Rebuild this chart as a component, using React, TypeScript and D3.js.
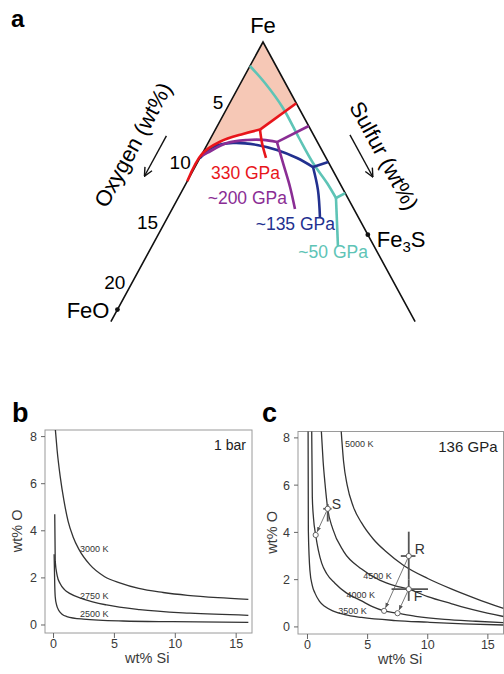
import React from "react";
import * as d3 from "d3";

const W = 504;
const H = 674;
const FONT = "'Liberation Sans', Arial, Helvetica, sans-serif";

// ---------- panel a : Fe-O-S ternary, points are [wt% O, wt% S]
const oxygenTicks = [5, 10, 15, 20];
const feoO = 22.3;
const fe3sS = 16.06;
const edgeMax = 23.3;

const red330Left = [[11.6, 0], [9.3, 0], [7.45, 0.86], [5.36, 2.3], [3.88, 3.42]];
const red330Right = [[3.88, 3.42], [0, 5.1]];
const red330Down = [[3.88, 3.42], [4.28, 4.13], [4.6, 5.06]];

const purple200Left = [[9.5, 0], [8.9, 0.34], [6.97, 1.45], [5.31, 2.86], [4.08, 4.08], [3.1, 5.24]];
const purple200Right = [[3.1, 5.24], [0, 7.0]];
const purple200Down = [[3.1, 5.24], [3.51, 6.57], [3.97, 8.11], [4.51, 9.41]];

const blue135Left = [[9.7, 0], [8.2, 0.55], [6.5, 1.91], [4.75, 3.83], [3.43, 5.57], [2.23, 7.44], [1.38, 9.04]];
const blue135Right = [[1.38, 9.04], [0, 10.0]];
const blue135Down = [[1.38, 9.04], [1.96, 10.38], [2.97, 11.7]];

const teal50Main = [[2.0, 0], [1.56, 1.86], [1.22, 4.28], [1.24, 6.76], [1.21, 8.87], [0.97, 10.78], [0.91, 12.09]];
const teal50Right = [[0.91, 12.09], [0, 12.6]];
const teal50Down = [[0.91, 12.09], [2.76, 14.24]];

const pressureLabels = ["330 GPa", "~200 GPa", "~135 GPa", "~50 GPa"];
const pressureColors = ["#e8151b", "#8a2d94", "#22308f", "#5ec4b6"];

// ---------- panels b, c : isotherms, points are [wt% Si, wt% O]
const siTicks = [0, 5, 10, 15];
const oTicks = [0, 2, 4, 6, 8];

const b3000 = [[0.15, 8.3], [0.3, 7.4], [0.55, 6.3], [0.85, 5.3], [1.2, 4.4], [1.6, 3.75], [2.1, 3.2], [3, 2.55], [4.2, 2.05], [5.5, 1.78], [7, 1.55], [9, 1.38], [11, 1.26], [13.5, 1.16], [16, 1.09]];
const b2750 = [[0.1, 4.7], [0.14, 2.7], [0.3, 2.1], [0.55, 1.75], [0.9, 1.5], [1.36, 1.33], [2.45, 1.1], [4.36, 0.85], [7.08, 0.65], [11.2, 0.5], [16, 0.41]];
const b2500 = [[0.05, 3.0], [0.1, 1.7], [0.14, 1.2], [0.25, 0.85], [0.41, 0.64], [0.7, 0.46], [1.09, 0.36], [2.45, 0.25], [5.7, 0.17], [9.8, 0.14], [16, 0.11]];
const bLabels = ["3000 K", "2750 K", "2500 K"];
const bLabelAt = [[2.18, 3.1], [2.18, 1.12], [2.18, 0.32]];

const c3500 = [[0.05, 8.3], [0.07, 4.1], [0.2, 2.4], [0.4, 1.75], [0.62, 1.43], [1.0, 1.08], [1.45, 0.86], [2.2, 0.66], [3.1, 0.52], [4.5, 0.4], [7.3, 0.27], [10, 0.2], [13, 0.13], [16.3, 0.08]];
const c4000 = [[0.35, 8.3], [0.4, 5.5], [0.5, 4.6], [0.68, 3.89], [0.9, 3.25], [1.18, 2.7], [1.6, 2.25], [2.28, 1.85], [3.2, 1.45], [4.5, 1.1], [5.4, 0.86], [6.37, 0.68], [7.49, 0.58], [9, 0.45], [11.4, 0.32], [14, 0.24], [16.3, 0.18]];
const c4500 = [[1.15, 8.3], [1.3, 7.0], [1.45, 6.1], [1.68, 5.0], [2.1, 4.15], [3.0, 3.2], [4.5, 2.45], [6, 1.98], [7.3, 1.74], [8.42, 1.6], [10, 1.28], [12, 0.98], [14, 0.7], [16.3, 0.44]];
const c5000 = [[2.8, 8.3], [3.0, 7.0], [3.3, 6.0], [3.8, 5.1], [4.5, 4.4], [5.5, 3.7], [6.5, 3.2], [8, 2.6], [10, 2.05], [12, 1.6], [14, 1.2], [16.3, 0.78]];
const cLabels = ["3500 K", "4000 K", "4500 K", "5000 K"];
const cLabelAt = [[2.56, 0.53], [3.25, 1.23], [4.63, 2.03], [3.11, 7.6]];

// estimates with error bars and the point each one projects to on an isotherm
const estNames = ["S", "R", "F"];
const estSi = [1.68, 8.42, 8.42];
const estO = [5.0, 3.0, 1.6];
const estSiErr = [[1.31, 2.0], [7.76, 8.98], [6.99, 10.02]];
const estOErr = [[4.46, 5.2], [2.0, 4.03], [1.1, 2.0]];
const projSi = [0.68, 6.37, 7.49];
const projO = [3.89, 0.68, 0.58];

// ---------- ternary geometry
const apex = { x: 263, y: 42 };
const wtPx = d3.scaleLinear().domain([0, 1]).range([0, 12]);
const halfSlope = 0.544;
function tern(o: number, s: number): [number, number] {
  return [apex.x + wtPx(s - o) * halfSlope, apex.y + wtPx(o + s)];
}
const edgeLen = Math.hypot(halfSlope, 1);
const uL = [-halfSlope / edgeLen, 1 / edgeLen];
const uR = [halfSlope / edgeLen, 1 / edgeLen];

function PanelA() {
  const line = d3
    .line<number[]>()
    .x((d) => tern(d[0], d[1])[0])
    .y((d) => tern(d[0], d[1])[1])
    .curve(d3.curveCatmullRom.alpha(0.5));

  const arc = line(red330Left.slice(1)) as string;
  const fillD =
    `M${tern(0, 0)}L${tern(9.3, 0)}` + arc.slice(arc.indexOf("C")) + `L${tern(0, 5.1)}Z`;

  const curves = [
    [teal50Main, teal50Right, teal50Down],
    [blue135Left, blue135Right, blue135Down],
    [purple200Left, purple200Right, purple200Down],
    [red330Left, red330Right, red330Down],
  ];
  const curveColors = [pressureColors[3], pressureColors[2], pressureColors[1], pressureColors[0]];

  const ends = [red330Down, purple200Down, blue135Down, teal50Down].map((b) => {
    const p = b[b.length - 1];
    return tern(p[0], p[1]);
  });
  const labelOff = [[14, 21], [-8, -5], [15, 12], [30, 12]];

  const feo = tern(feoO, 0);
  const fe3s = tern(0, fe3sS);

  // axis titles along edges
  const oAlong = tern(11.16, 0);
  const nL = [-uL[1], uL[0]];
  const oText = [oAlong[0] + nL[0] * 65, oAlong[1] + nL[1] * 65];
  const oArrowC = tern(11.1, 0);
  const oArrowMid = [oArrowC[0] + nL[0] * 40, oArrowC[1] + nL[1] * 40];
  const sAlong = tern(0, 11.55);
  const nR = [uR[1], -uR[0]];
  const sText = [sAlong[0] + nR[0] * 52, sAlong[1] + nR[1] * 52];
  const sArrowC = tern(0, 10.77);
  const sArrowMid = [sArrowC[0] + nR[0] * 32, sArrowC[1] + nR[1] * 32];
  const angle = (Math.atan2(1, halfSlope) * 180) / Math.PI;

  return (
    <g>
      <text x={11} y={27} fontSize={24} fontWeight="bold">a</text>
      <path d={fillD} fill="#f6c8b6" stroke="none" />
      <path d={`M${tern(edgeMax, 0)}L${tern(0, 0)}L${tern(0, edgeMax)}`} fill="none" stroke="#111" strokeWidth={1.6} />
      {curves.map((branches, i) =>
        branches.map((b, j) => (
          <path key={`${i}-${j}`} d={line(b) as string} fill="none" stroke={curveColors[i]} strokeWidth={2.6} strokeLinejoin="round" />
        ))
      )}
      <circle cx={feo[0]} cy={feo[1]} r={2.4} fill="#111" />
      <circle cx={fe3s[0]} cy={fe3s[1]} r={2.4} fill="#111" />
      <text x={apex.x} y={33} fontSize={22} textAnchor="middle">Fe</text>
      <text x={feo[0] - 8} y={feo[1] + 8} fontSize={22} textAnchor="end">FeO</text>
      <text x={fe3s[0] + 9} y={fe3s[1] + 12} fontSize={22}>
        Fe<tspan fontSize={15} dy={5}>3</tspan><tspan dy={-5}>S</tspan>
      </text>
      {oxygenTicks.map((t) => {
        const p = tern(t, 0);
        return (
          <text key={t} x={p[0] - 7} y={p[1]} dy="0.36em" fontSize={19} textAnchor="end">{t}</text>
        );
      })}
      {pressureLabels.map((lab, i) => (
        <text key={lab} x={ends[i][0] + labelOff[i][0]} y={ends[i][1] + labelOff[i][1]} fontSize={17.5} fill={pressureColors[i]} textAnchor="end">{lab}</text>
      ))}
      <text transform={`translate(${oText[0]},${oText[1]}) rotate(${-angle})`} fontSize={22} textAnchor="middle" dominantBaseline="central">Oxygen (wt%)</text>
      <line
        x1={oArrowMid[0] - uL[0] * 23} y1={oArrowMid[1] - uL[1] * 23}
        x2={oArrowMid[0] + uL[0] * 23} y2={oArrowMid[1] + uL[1] * 23}
        stroke="#111" strokeWidth={1.4} markerEnd="url(#vhead)" />
      <text transform={`translate(${sText[0]},${sText[1]}) rotate(${angle})`} fontSize={22} textAnchor="middle" dominantBaseline="central">Sulfur (wt%)</text>
      <line
        x1={sArrowMid[0] - uR[0] * 24} y1={sArrowMid[1] - uR[1] * 24}
        x2={sArrowMid[0] + uR[0] * 24} y2={sArrowMid[1] + uR[1] * 24}
        stroke="#111" strokeWidth={1.4} markerEnd="url(#vhead)" />
    </g>
  );
}

type PanelProps = {
  id: string;
  letter: string;
  letterX: number;
  left: number;
  right: number;
  top: number;
  bottom: number;
  xDomain: [number, number];
  yDomain: [number, number];
  curves: number[][][];
  labels: string[];
  labelAt: number[][];
  title: string;
  titleSize: number;
  yTitleX: number;
  children?: (x: d3.ScaleLinear<number, number>, y: d3.ScaleLinear<number, number>) => React.ReactNode;
};

function IsoPanel(p: PanelProps) {
  const x = d3.scaleLinear().domain(p.xDomain).range([p.left, p.right]);
  const y = d3.scaleLinear().domain(p.yDomain).range([p.bottom, p.top]);
  const line = d3
    .line<number[]>()
    .x((d) => x(d[0]))
    .y((d) => y(d[1]))
    .curve(d3.curveMonotoneX);
  const tickCol = "#666";
  const txtCol = "#3a3a3a";
  return (
    <g>
      <text x={p.letterX} y={422} fontSize={27} fontWeight="bold">{p.letter}</text>
      <defs>
        <clipPath id={p.id}>
          <rect x={p.left} y={p.top} width={p.right - p.left} height={p.bottom - p.top} />
        </clipPath>
      </defs>
      <rect x={p.left} y={p.top} width={p.right - p.left} height={p.bottom - p.top} fill="none" stroke="#9a9a9a" strokeWidth={1} />
      {siTicks.map((t) => (
        <g key={t}>
          <line x1={x(t)} x2={x(t)} y1={p.bottom} y2={p.bottom + 5} stroke={tickCol} />
          <text x={x(t)} y={p.bottom + 15} fontSize={12.5} fill={txtCol} textAnchor="middle">{t}</text>
        </g>
      ))}
      {oTicks.map((t) => (
        <g key={t}>
          <line x1={p.left - 4} x2={p.left} y1={y(t)} y2={y(t)} stroke={tickCol} />
          <text x={p.left - 8} y={y(t)} dy="0.35em" fontSize={12.5} fill={txtCol} textAnchor="end">{t}</text>
        </g>
      ))}
      <text x={x(7.7)} y={p.bottom + 30} fontSize={14.5} fill={txtCol} textAnchor="middle">wt% Si</text>
      <text transform={`translate(${p.yTitleX},${y(4)}) rotate(-90)`} fontSize={14.5} fill={txtCol} textAnchor="middle">wt% O</text>
      <g clipPath={`url(#${p.id})`}>
        {p.curves.map((c, i) => (
          <path key={i} d={line(c) as string} fill="none" stroke="#333" strokeWidth={1.3} />
        ))}
      </g>
      {p.labels.map((l, i) => (
        <text key={l} x={x(p.labelAt[i][0])} y={y(p.labelAt[i][1])} fontSize={9} fill="#333">{l}</text>
      ))}
      <text x={p.right - 6} y={p.top + 20} fontSize={p.titleSize} fill="#222" textAnchor="end">{p.title}</text>
      {p.children && p.children(x, y)}
    </g>
  );
}

function Estimates(x: d3.ScaleLinear<number, number>, y: d3.ScaleLinear<number, number>) {
  const labelOff = [[4, 0], [6, -2.5], [5, 12]];
  return (
    <g>
      {estNames.map((n, i) => {
        const cx = x(estSi[i]);
        const cy = y(estO[i]);
        const px = x(projSi[i]);
        const py = y(projO[i]);
        const dx = px - cx;
        const dy = py - cy;
        const len = Math.hypot(dx, dy);
        return (
          <g key={n}>
            <line x1={x(estSiErr[i][0])} x2={x(estSiErr[i][1])} y1={cy} y2={cy} stroke="#555" strokeWidth={1.8} />
            <line x1={cx} x2={cx} y1={y(estOErr[i][0])} y2={y(estOErr[i][1])} stroke="#555" strokeWidth={1.8} />
            <line x1={cx + (dx / len) * 3} y1={cy + (dy / len) * 3} x2={px - (dx / len) * 3.5} y2={py - (dy / len) * 3.5} stroke="#555" strokeWidth={0.8} markerEnd="url(#shead)" />
            <circle cx={cx} cy={cy} r={2.6} fill="#fff" stroke="#555" strokeWidth={0.9} />
            <circle cx={px} cy={py} r={2.6} fill="#fff" stroke="#555" strokeWidth={0.9} />
            <text x={cx + labelOff[i][0]} y={cy + labelOff[i][1]} fontSize={14} fill="#333">{n}</text>
          </g>
        );
      })}
    </g>
  );
}

export default function App() {
  return (
    <svg width={W} height={H} style={{ position: "absolute", left: 0, top: 0, background: "#fff" }} fontFamily={FONT}>
      <defs>
        <marker id="vhead" viewBox="0 0 10 10" refX={9.5} refY={5} markerWidth={10} markerHeight={10} markerUnits="userSpaceOnUse" orient="auto">
          <path d="M1,1 L9.5,5 L1,9" fill="none" stroke="#111" strokeWidth={1.4} />
        </marker>
        <marker id="shead" viewBox="0 0 10 10" refX={9.5} refY={5} markerWidth={5} markerHeight={5} markerUnits="userSpaceOnUse" orient="auto">
          <path d="M0,1 L10,5 L0,9 Z" fill="#555" />
        </marker>
      </defs>
      <PanelA />
      <IsoPanel
        id="clipB" letter="b" letterX={12}
        left={45} right={252} top={430} bottom={633}
        xDomain={[-0.7, 16.3]} yDomain={[-0.34, 8.28]}
        curves={[b3000, b2750, b2500]}
        labels={bLabels} labelAt={bLabelAt}
        title="1 bar" titleSize={14} yTitleX={22}
      />
      <IsoPanel
        id="clipC" letter="c" letterX={262}
        left={298} right={503.5} top={431.5} bottom={634}
        xDomain={[-0.79, 16.3]} yDomain={[-0.3, 8.27]}
        curves={[c3500, c4000, c4500, c5000]}
        labels={cLabels} labelAt={cLabelAt}
        title="136 GPa" titleSize={15} yTitleX={277}
      >
        {Estimates}
      </IsoPanel>
    </svg>
  );
}
